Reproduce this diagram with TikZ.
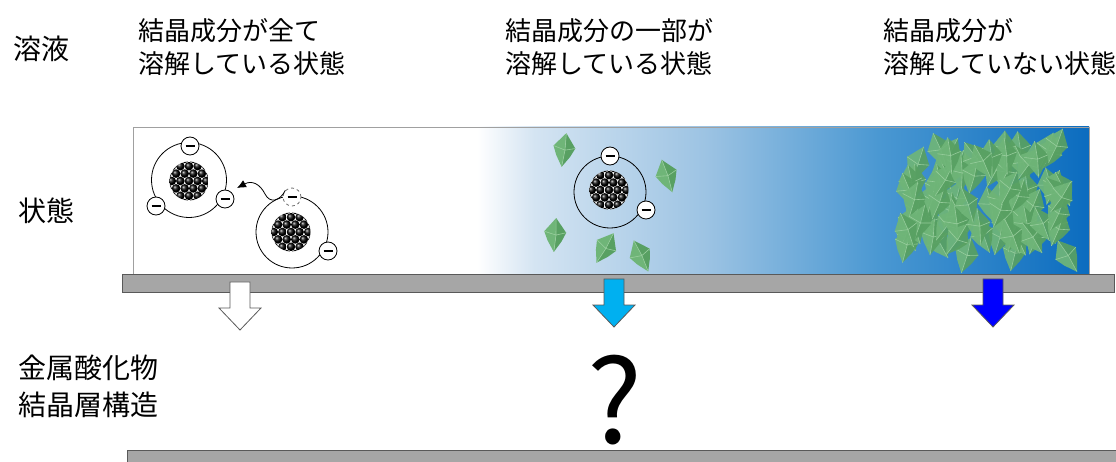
\documentclass[tikz,border=0pt]{standalone}
\usepackage{fontspec}
\usepackage{tikz}
\usetikzlibrary{calc}
\usetikzlibrary{arrows.meta,shapes}
\usetikzlibrary{positioning}
\newfontfamily\jp{Noto Sans CJK JP}
\definecolor{bargray}{HTML}{A6A6A6}
\definecolor{edgegray}{HTML}{595959}
\definecolor{boxgray}{HTML}{A0A0A0}
\definecolor{gem}{HTML}{6FB578}
\definecolor{gemdark}{HTML}{58A062}
\definecolor{gemlight}{HTML}{9ACF9F}
\definecolor{skyarrow}{HTML}{00B0F0}
\definecolor{deeparrow}{HTML}{0000FF}
\definecolor{solA}{HTML}{D4E4F2}
\definecolor{solB}{HTML}{9CC3E3}
\definecolor{solC}{HTML}{4A98D2}
\definecolor{solD}{HTML}{0B6CBF}
\pgfdeclarehorizontalshading{liquid}{100bp}{color(0bp)=(white); color(25bp)=(white);
  color(43bp)=(white); color(46bp)=(solA); color(55bp)=(solB); color(64bp)=(solC);
  color(75bp)=(solD); color(100bp)=(solD)}
\newcommand{\eminus}{\rule[-1.1pt]{9pt}{2.2pt}}
\newcommand{\jsize}[2]{\jp\fontsize{#1}{#2}\selectfont}

\tikzset{
  electron/.style={circle, draw, fill=white, line width=0.8pt, minimum size=18pt, inner sep=0pt},
  ghost/.style={electron, dashed, draw=black!55},
  orbit/.style={draw, line width=0.8pt},
  label/.style={font=\jsize{28}{37}, anchor=west, align=left},
  header/.style={font=\jsize{26}{33}, align=left},
  % a small green crystal
  crystal/.pic={
    \fill[gem] (0,-17) -- (-11,-3) -- (-7,6) -- (0,17) -- (1,0) -- cycle;
    \fill[gemdark] (0,-17) -- (11,-3) -- (7,6) -- (0,17) -- (1,0) -- cycle;
    \draw[gemlight, line width=0.6pt] (-11,-3) -- (1,0) -- (11,-3) (0,-17) -- (1,0) -- (0,17);
  },
  % atomic nucleus: black balls packed in rows
  nucleus/.pic={
    \begin{scope}
      \clip (0,0) circle (19.5);
      \fill[white] (0,0) circle (19.5);
      \foreach \r in {-3,...,3}
        \foreach \c in {-3,...,3} {
          \pgfmathsetmacro\bx{8.6*\c+4.3*mod(\r+4,2)}
          \shade[ball color=black] (\bx,7.4*\r) circle (4.3);
        }
    \end{scope}
  },
  flow/.pic={
    \draw[pic actions, draw=edgegray, line width=0.8pt] (-10,0) -- (10,0) -- (10,26) -- (21,26)
      -- (0,48) -- (-21,26) -- (-10,26) -- cycle;
  }
}

\begin{document}
\begin{tikzpicture}[x=1pt, y=-1pt]
  \useasboundingbox (0,0) rectangle (1116,462);

  % row labels
  \node[label] (solution) at (10,49) {溶液};
  \node[label] (state) at (15,211) {状態};
  \node[label] (layer) at (15,386) {金属酸化物\\結晶層構造};

  % column headers
  \node[header, anchor=west] (hdA) at (135,47) {結晶成分が全て\\溶解している状態};
  \node[header, align=center] (hdB) at (609,47) {結晶成分の一部が\\溶解している状態};
  \node[header, anchor=west] (hdC) at (880,47) {結晶成分が\\溶解していない状態};

  % the solution
  \shade[shading=liquid, draw=boxgray] (133,127) rectangle (1089,274);

  % fully dissolved: two atoms
  \coordinate (A1) at (189,180);
  \coordinate (A2) at (292,232);
  \draw[orbit] (A1) circle (37.5);
  \draw[orbit] (A2) circle (36);
  \pic at (189,181) {nucleus};
  \pic at (291,232) {nucleus};
  \node[electron] (e1a) at (190,146) {\eminus};
  \node[electron] (e1b) at (156,206) {\eminus};
  \node[electron] (e1c) at (225,199) {\eminus};
  \node[ghost] (e2a) at (292,197) {\eminus};
  \node[electron] (e2b) at (328,251) {\eminus};
  \coordinate (hop) at (237,188);
  \draw[line width=0.8pt, -{Latex[length=9pt,width=8pt]}] (e2a.north west)
    .. controls (280,201) and (270,204) .. (265,194)
    .. controls (260,184) and (252,180) .. (hop);

  % partly dissolved
  \coordinate (A3) at (610,192);
  \draw[orbit] (A3) circle (36);
  \pic at (609,190) {nucleus};
  \node[electron] (e3a) at (610,156) {\eminus};
  \node[electron] (e3b) at (646,210) {\eminus};
  \pic[rotate=-8] at (564,150) {crystal};
  \pic[rotate=18] at (667,176) {crystal};
  \pic[rotate=-4] at (555,235) {crystal};
  \pic[rotate=-30] at (605,248) {crystal};
  \pic[rotate=25] at (641,256) {crystal};

  % not dissolved: crystals everywhere
  \pgfmathsetseed{11}
  \foreach \k in {1,...,90} {
    \pgfmathsetmacro\gx{906+164*rnd}
    \pgfmathsetmacro\gy{145+114*rnd}
    \pgfmathsetmacro\ga{70*rnd-35}
    \pic[rotate=\ga, scale=1.08, opacity=0.93] at (\gx,\gy) {crystal};
  }

  % substrate and what grows on it
  \draw[fill=bargray, draw=edgegray, line width=0.8pt] (122,274) rectangle (1114,292);
  \pic[fill=white] (arrA) at (240,282) {flow};
  \pic[fill=skyarrow] (arrB) at (614,279) {flow};
  \pic[fill=deeparrow] (arrC) at (993,279) {flow};

  \node[font=\jsize{116}{116}] (unknown) at (615,400) {?};

  \fill[bargray] (127,450) rectangle (1116,462);
  \draw[edgegray, line width=0.8pt] (127,462) -- (127,450) -- (1116,450);
\end{tikzpicture}
\end{document}
